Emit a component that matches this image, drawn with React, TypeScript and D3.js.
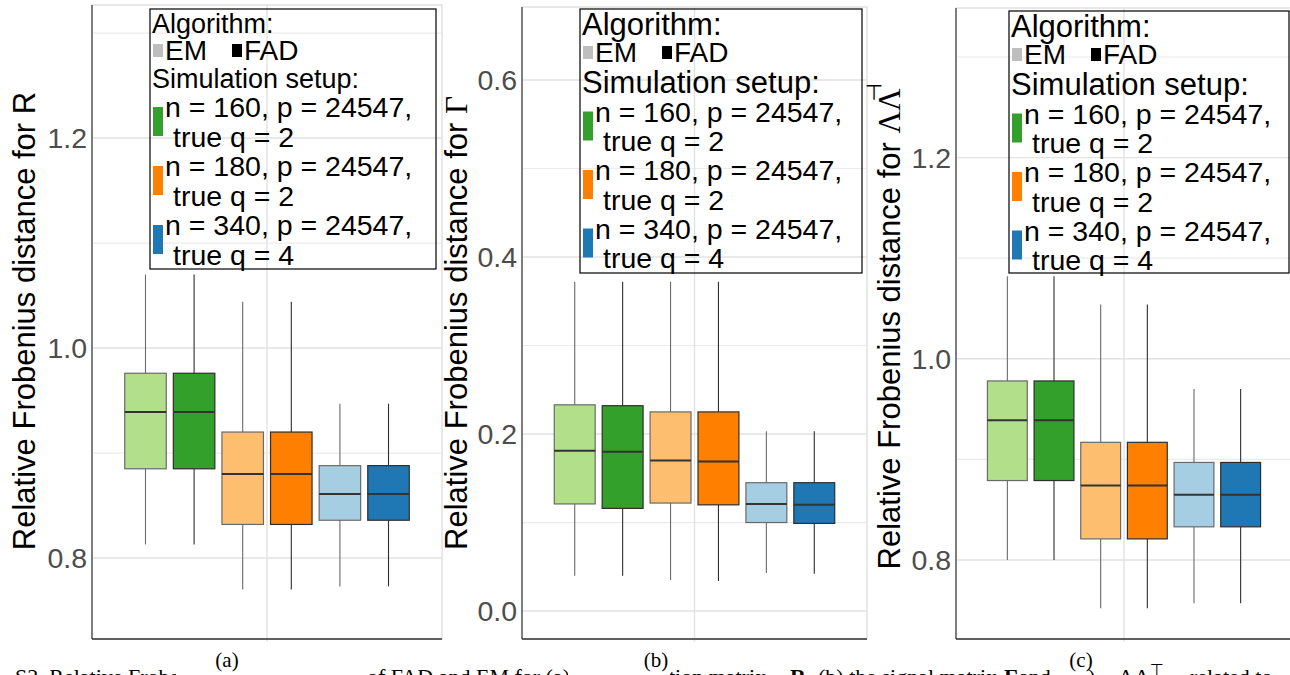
import React, { useRef, useEffect } from 'react';
import * as d3 from 'd3';

// boxes: EM / FAD for each simulation setup
const boxKeys = ['EM-160', 'FAD-160', 'EM-180', 'FAD-180', 'EM-340', 'FAD-340'];
const boxFills = ['#b2df8a', '#33a02c', '#fdbf6f', '#ff7f00', '#a6cee3', '#1f78b4'];
const boxAlgo = ['EM', 'FAD', 'EM', 'FAD', 'EM', 'FAD'];

const algorithms = ['EM', 'FAD'];
const algoColors = ['#bebebe', '#000000'];
const setupLines = [
  ['n = 160, p = 24547,', 'true q = 2'],
  ['n = 180, p = 24547,', 'true q = 2'],
  ['n = 340, p = 24547,', 'true q = 4'],
];
const setupColors = ['#33a02c', '#ff7f00', '#1f78b4'];

// (a) correlation matrix R
const rLow = [0.813, 0.813, 0.770, 0.770, 0.773, 0.773];
const rQ1 = [0.885, 0.885, 0.832, 0.832, 0.836, 0.836];
const rMed = [0.939, 0.939, 0.880, 0.880, 0.861, 0.861];
const rQ3 = [0.976, 0.976, 0.920, 0.920, 0.888, 0.888];
const rHigh = [1.070, 1.070, 1.044, 1.044, 0.947, 0.947];
const rTicks = [0.8, 1.0, 1.2];
const rMinor = [0.9, 1.1, 1.3];

// (b) signal matrix Gamma
const gLow = [0.040, 0.040, 0.035, 0.034, 0.043, 0.042];
const gQ1 = [0.121, 0.116, 0.122, 0.120, 0.100, 0.099];
const gMed = [0.181, 0.180, 0.170, 0.169, 0.121, 0.120];
const gQ3 = [0.233, 0.232, 0.225, 0.225, 0.145, 0.145];
const gHigh = [0.372, 0.372, 0.372, 0.372, 0.203, 0.203];
const gTicks = [0.0, 0.2, 0.4, 0.6];
const gMinor = [0.1, 0.3, 0.5];

// (c) Lambda Lambda^T
const lLow = [0.800, 0.800, 0.752, 0.752, 0.757, 0.757];
const lQ1 = [0.879, 0.879, 0.821, 0.821, 0.833, 0.833];
const lMed = [0.939, 0.939, 0.874, 0.874, 0.865, 0.865];
const lQ3 = [0.978, 0.978, 0.917, 0.917, 0.897, 0.897];
const lHigh = [1.082, 1.082, 1.054, 1.054, 0.970, 0.970];
const lTicks = [0.8, 1.0, 1.2];
const lMinor = [0.9, 1.1, 1.3];

const W = 1290;
const H = 675;
const SANS = "'Liberation Sans', Arial, sans-serif";
const SERIF = "'Liberation Serif', 'Times New Roman', serif";
const MATH = "'DejaVu Sans', sans-serif";

interface Stats { low: number[]; q1: number[]; med: number[]; q3: number[]; high: number[] }
interface LegendBox { x: number; y: number; w: number; h: number; big: boolean }
interface Panel {
  left: number; right: number; top: number; bottom: number;
  domain: [number, number];
  ticks: number[]; minor: number[];
  stats: Stats;
  titleX: number; titleY: number;
  symbol: 'R' | 'G' | 'L';
  legend: LegendBox;
}

const panels: Panel[] = [
  {
    left: 92, right: 442, top: 5, bottom: 639, domain: [0.7229, 1.3267],
    ticks: rTicks, minor: rMinor,
    stats: { low: rLow, q1: rQ1, med: rMed, q3: rQ3, high: rHigh },
    titleX: 35, titleY: 321, symbol: 'R',
    legend: { x: 150, y: 9, w: 286, h: 260, big: false },
  },
  {
    left: 522, right: 867, top: 7, bottom: 639, domain: [-0.0316, 0.6825],
    ticks: gTicks, minor: gMinor,
    stats: { low: gLow, q1: gQ1, med: gMed, q3: gQ3, high: gHigh },
    titleX: 467, titleY: 323, symbol: 'G',
    legend: { x: 580, y: 9, w: 282, h: 264, big: true },
  },
  {
    left: 956, right: 1292, top: 8, bottom: 639, domain: [0.7215, 1.3487],
    ticks: lTicks, minor: lMinor,
    stats: { low: lLow, q1: lQ1, med: lMed, q3: lQ3, high: lHigh },
    titleX: 900, titleY: 329, symbol: 'L',
    legend: { x: 1009, y: 11, w: 280, h: 262, big: true },
  },
];

const drawLegend = (svg: d3.Selection<SVGSVGElement, unknown, null, undefined>, L: LegendBox) => {
  const g = svg.append('g').attr('transform', `translate(${L.x},${L.y})`)
    .attr('font-family', SANS).attr('fill', '#000');
  g.append('rect').attr('width', L.w).attr('height', L.h)
    .attr('fill', 'none').attr('stroke', '#000').attr('stroke-width', 1.2);

  const titleSize = L.big ? 31 : 27;
  const algoY = L.big ? 25.5 : 24;
  const emY = L.big ? 53 : 51;
  const simY = L.big ? 84 : 79;
  const item0 = L.big ? 112.5 : 108;
  const step = L.big ? 58.5 : 59;
  const inner = 29.5;

  g.append('text').attr('x', 2).attr('y', algoY).attr('font-size', titleSize).text('Algorithm:');
  const keyX = [3, 82];
  const txtX = [15, 94];
  algorithms.forEach((a, i) => {
    g.append('rect').attr('x', keyX[i]).attr('y', emY - 16).attr('width', 10).attr('height', 13)
      .attr('fill', algoColors[i]);
    g.append('text').attr('x', txtX[i]).attr('y', emY).attr('font-size', 28).text(a);
  });
  g.append('text').attr('x', 2).attr('y', simY).attr('font-size', titleSize).text('Simulation setup:');
  setupLines.forEach((lines, i) => {
    const base = item0 + i * step;
    g.append('rect').attr('x', 3).attr('y', base - 10).attr('width', 10).attr('height', 29)
      .attr('fill', setupColors[i]);
    g.append('text').attr('x', 15).attr('y', base).attr('font-size', 28.5).text(lines[0]);
    g.append('text').attr('x', 23).attr('y', base + inner).attr('font-size', 28.5).text(lines[1]);
  });
};

const drawPanel = (svg: d3.Selection<SVGSVGElement, unknown, null, undefined>, p: Panel) => {
  const y = d3.scaleLinear().domain(p.domain).range([p.bottom, p.top]);
  const cx = (p.left + p.right) / 2;
  const half = (p.right - p.left) * 0.4166;
  const x = d3.scaleBand<string>().domain(boxKeys).range([cx - half, cx + half])
    .paddingInner(0.146).paddingOuter(0.073);

  const g = svg.append('g');

  // light panel border
  g.append('rect').attr('x', p.left).attr('y', p.top)
    .attr('width', p.right - p.left).attr('height', p.bottom - p.top)
    .attr('fill', 'none').attr('stroke', '#d2d2d2').attr('stroke-width', 1);

  // grid
  g.append('g').selectAll('line').data(p.minor).join('line')
    .attr('x1', p.left).attr('x2', p.right)
    .attr('y1', d => y(d)).attr('y2', d => y(d))
    .attr('stroke', '#ebebeb').attr('stroke-width', 1.2);
  g.append('g').selectAll('line').data(p.ticks).join('line')
    .attr('x1', p.left).attr('x2', p.right)
    .attr('y1', d => y(d)).attr('y2', d => y(d))
    .attr('stroke', '#e2e2e2').attr('stroke-width', 1.4);
  g.append('line').attr('x1', cx).attr('x2', cx).attr('y1', p.top).attr('y2', p.bottom + 3)
    .attr('stroke', '#e2e2e2').attr('stroke-width', 1.4);

  // boxes
  const rows = boxKeys.map((k, i) => ({
    key: k, i,
    low: p.stats.low[i], q1: p.stats.q1[i], med: p.stats.med[i],
    q3: p.stats.q3[i], high: p.stats.high[i],
  }));
  const bw = x.bandwidth();
  const box = g.append('g').selectAll('g').data(rows).join('g')
    .attr('transform', d => `translate(${x(d.key)},0)`);
  const edge = (d: { i: number }) => (boxAlgo[d.i] === 'EM' ? '#6a6a6a' : '#2e2e2e');
  box.append('line').attr('x1', bw / 2).attr('x2', bw / 2)
    .attr('y1', d => y(d.high)).attr('y2', d => y(d.q3))
    .attr('stroke', edge).attr('stroke-width', 1.1);
  box.append('line').attr('x1', bw / 2).attr('x2', bw / 2)
    .attr('y1', d => y(d.q1)).attr('y2', d => y(d.low))
    .attr('stroke', edge).attr('stroke-width', 1.1);
  box.append('rect').attr('x', 0).attr('width', bw)
    .attr('y', d => y(d.q3)).attr('height', d => y(d.q1) - y(d.q3))
    .attr('fill', d => boxFills[d.i]).attr('stroke', edge).attr('stroke-width', 1.2);
  box.append('line').attr('x1', 0).attr('x2', bw)
    .attr('y1', d => y(d.med)).attr('y2', d => y(d.med))
    .attr('stroke', '#333').attr('stroke-width', 2);

  // axis lines
  g.append('line').attr('x1', p.left).attr('x2', p.left).attr('y1', p.top).attr('y2', p.bottom)
    .attr('stroke', '#444').attr('stroke-width', 1.3);
  g.append('line').attr('x1', p.left).attr('x2', p.right).attr('y1', p.bottom).attr('y2', p.bottom)
    .attr('stroke', '#333').attr('stroke-width', 1.5);

  // tick labels
  g.append('g').selectAll('text').data(p.ticks).join('text')
    .attr('x', p.left - 5).attr('y', d => y(d)).attr('dy', '0.36em')
    .attr('text-anchor', 'end').attr('font-family', SANS).attr('font-size', 28.5)
    .attr('fill', '#4d4d4d').text(d => d3.format('.1f')(d));

  // y title
  const t = g.append('text')
    .attr('transform', `translate(${p.titleX},${p.titleY}) rotate(-90)`)
    .attr('text-anchor', 'middle').attr('font-family', SANS).attr('font-size', 31).attr('fill', '#000');
  t.append('tspan').text('Relative Frobenius distance for ');
  if (p.symbol === 'R') t.append('tspan').text('R');
  if (p.symbol === 'G') t.append('tspan').attr('font-family', SERIF).text('Γ');
  if (p.symbol === 'L') {
    t.append('tspan').attr('font-family', SERIF).text('ΛΛ');
    // transpose mark sits upright, above the rotated ΛΛ
    g.append('text').attr('x', p.titleX - 26).attr('y', 100).attr('text-anchor', 'middle')
      .attr('font-family', MATH).attr('font-size', 21).attr('fill', '#000').text('⊤');
  }

  drawLegend(svg, p.legend);
};

const drawCaption = (svg: d3.Selection<SVGSVGElement, unknown, null, undefined>) => {
  // caption of the source figure, clipped at the bottom edge
  const seg = (x: number, s: string, bold = false) =>
    svg.append('text').attr('x', x).attr('y', 684).attr('font-family', SERIF).attr('font-size', 22)
      .attr('font-weight', bold ? 'bold' : 'normal').attr('fill', '#000').text(s);
  seg(15, 'S2. Relative Frobenius errors');
  seg(367, 'of FAD and EM for (a) the correlation matrix');
  seg(790, 'R', true);
  seg(807, ', (b) the signal matrix');
  seg(1004, 'Γ', true);
  seg(1019, 'and');
  seg(1088, ')');
  seg(1118, 'ΛΛ');
  svg.append('text').attr('x', 1150).attr('y', 675).attr('font-family', MATH)
    .attr('font-size', 16).attr('fill', '#000').text('⊤');
  seg(1190, 'related to');

  const labels = [
    { text: '(a)', x: 227, gap: [176, 362] },
    { text: '(b)', x: 656, gap: [568, 670] },
    { text: '(c)', x: 1081, gap: [1060, 1086] },
  ];
  labels.forEach(l => {
    svg.append('rect').attr('x', l.gap[0]).attr('y', 646)
      .attr('width', l.gap[1] - l.gap[0]).attr('height', 30).attr('fill', '#fff');
    svg.append('text').attr('x', l.x).attr('y', 667).attr('text-anchor', 'middle')
      .attr('font-family', SERIF).attr('font-size', 21).attr('fill', '#000').text(l.text);
  });
};

const App: React.FC = () => {
  const svgRef = useRef<SVGSVGElement>(null);

  useEffect(() => {
    if (!svgRef.current) return;
    const svg = d3.select(svgRef.current);
    svg.selectAll('*').remove();
    svg.append('rect').attr('width', W).attr('height', H).attr('fill', '#fff');
    panels.forEach(p => drawPanel(svg, p));
    drawCaption(svg);
  }, []);

  return (
    <svg
      ref={svgRef}
      width={W}
      height={H}
      style={{ position: 'absolute', left: 0, top: 0, display: 'block' }}
    />
  );
};

export default App;
